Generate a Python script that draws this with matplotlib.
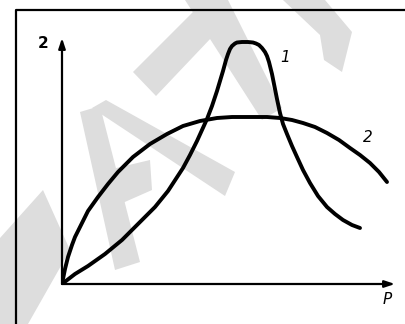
import matplotlib.pyplot as plt
from matplotlib.patches import Polygon

# curve 1: narrow peak
p1 = [0, 1.3, 2.6, 4.3, 6.0, 7.6, 9.3, 10.6, 12.1, 12.8, 13.5, 14.0, 14.5, 15.0, 15.5,
      16.1, 16.4, 16.6, 16.8, 17.0, 17.3, 17.5, 18.0, 18.6, 19.1, 19.4, 19.7, 20.0, 20.3,
      20.5, 20.7, 21.0, 21.2, 21.5, 21.8, 22.1, 22.5, 23.0, 23.5, 24.1, 24.8, 25.6, 26.5,
      27.3, 28.1, 29.0, 29.8]
z1 = [0, 1.0, 1.8, 3.0, 4.4, 6.0, 7.7, 9.3, 11.6, 12.9, 14.3, 15.4, 16.5, 17.8, 19.3,
      21.3, 22.4, 23.0, 23.5, 23.8, 24.05, 24.15, 24.2, 24.2, 24.15, 24.05, 23.9, 23.6, 23.2,
      22.8, 22.2, 21.0, 20.0, 18.5, 17.1, 16.0, 15.0, 13.8, 12.7, 11.4, 10.1, 8.8, 7.7,
      7.0, 6.4, 5.9, 5.6]

# curve 2: broad plateau
p2 = [0, 0.3, 0.6, 1.0, 1.3, 2.0, 2.6, 3.6, 4.6, 5.6, 7.1, 8.8, 10.5, 12.1, 13.8, 15.5,
      17.0, 18.8, 20.5, 21.8, 23.0, 24.1, 25.3, 26.5, 27.7, 28.8, 29.8, 30.8, 31.7, 32.5]
z2 = [0, 1.5, 2.7, 3.9, 4.7, 6.1, 7.3, 8.7, 10.0, 11.2, 12.7, 14.0, 15.0, 15.8, 16.3, 16.6,
      16.7, 16.7, 16.7, 16.6, 16.4, 16.1, 15.7, 15.1, 14.4, 13.6, 12.9, 12.1, 11.2, 10.2]

W, H = 406, 324
fig = plt.figure(figsize=(W / 100, H / 100), dpi=100)

# background: frame and faint watermark, in pixel coords
bg = fig.add_axes([0, 0, 1, 1])
bg.set_xlim(0, W)
bg.set_ylim(H, 0)
bg.axis("off")
grey = "#dddddd"
marks = [
    [(0, 238), (43, 190), (70, 250), (28, 324), (0, 324)],
    [(80, 112), (100, 106), (140, 262), (115, 270)],
    [(92, 108), (106, 100), (235, 172), (225, 196)],
    [(108, 170), (150, 160), (152, 190), (118, 205)],
    [(133, 72), (156, 96), (230, 18), (205, 0)],
    [(185, 0), (228, 0), (282, 108), (262, 120)],
    [(283, 0), (325, 0), (352, 32), (342, 72), (324, 60), (320, 35)],
]
for m in marks:
    bg.add_patch(Polygon(m, closed=True, color=grey, lw=0))
bg.plot([16, 16, W], [H, 10, 10], color="black", lw=1.6)

ax = fig.add_axes([62 / W, (H - 284) / H, (395 - 62) / W, (284 - 38) / H])
ax.patch.set_alpha(0)
ax.set_xlim(0, 33.3)
ax.set_ylim(0, 24.6)
for s in ax.spines.values():
    s.set_visible(False)
ax.set_xticks([])
ax.set_yticks([])

arrow = dict(arrowstyle="-|>,head_length=0.6,head_width=0.2", color="black", lw=1.6,
             shrinkA=0, shrinkB=0)
ax.annotate("", xy=(1, 0), xytext=(0, 0), xycoords="axes fraction", arrowprops=arrow)
ax.annotate("", xy=(0, 1), xytext=(0, 0), xycoords="axes fraction", arrowprops=arrow)

style = dict(color="black", lw=2.8, solid_capstyle="round", solid_joinstyle="round")
ax.plot(p1, z1, **style)
ax.plot(p2, z2, **style)

ax.text(22.3, 22.6, "1", fontsize=11, style="italic", ha="center", va="center")
ax.text(30.6, 14.6, "2", fontsize=11, style="italic", ha="center", va="center")
ax.text(-1.9, 24.1, "2", fontsize=11, fontweight="bold", ha="center", va="center")
ax.text(32.5, -1.6, "P", fontsize=11, style="italic", ha="center", va="center")

fig.savefig("out.png", dpi=100)
